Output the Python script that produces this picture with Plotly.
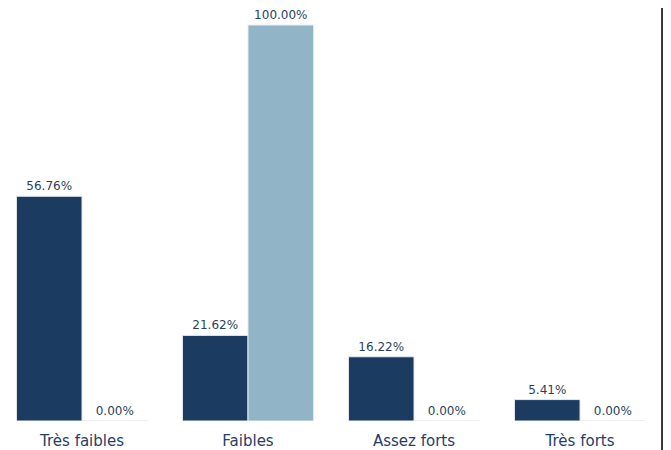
import plotly.graph_objects as go

categories = ["Très faibles", "Faibles", "Assez forts", "Très forts"]
series_a = [56.76, 21.62, 16.22, 5.41]
series_b = [0.0, 100.0, 0.0, 0.0]

dark = "#1b3b60"
light = "#91b5c6"
font = "DejaVu Sans"

fig = go.Figure()
for vals, col in [(series_a, dark), (series_b, light)]:
    fig.add_trace(go.Bar(
        x=categories, y=vals,
        marker=dict(color=col, line=dict(color="#e6eaef", width=1)),
        text=[f"{v:.2f}%" for v in vals],
        textposition="outside",
        textfont=dict(family=font, size=12, color="#2a3f5f"),
        cliponaxis=False,
        showlegend=False,
    ))

fig.update_layout(
    width=671, height=450,
    margin=dict(l=0, r=8, t=2, b=37, autoexpand=False),
    barmode="group", bargap=0.21, bargroupgap=0,
    plot_bgcolor="white", paper_bgcolor="white",
    font=dict(family=font),
    xaxis=dict(showgrid=False, zeroline=False, showline=False, ticks="",
               range=[-0.4458, 3.548], ticklabelstandoff=9,
               tickfont=dict(family=font, size=15, color="#1f4068")),
    yaxis=dict(range=[0, 103.8], visible=False, showgrid=False, zeroline=False),
    shapes=[dict(type="line", xref="paper", yref="paper", x0=0.9865, x1=0.9865,
                 y0=-0.2, y1=1.1, layer="above",
                 line=dict(color="#333333", width=2))],
)

fig.write_html("out.html")
